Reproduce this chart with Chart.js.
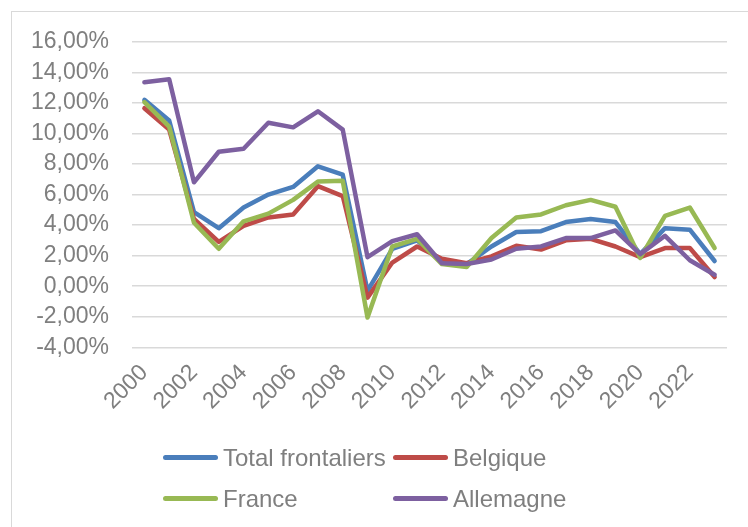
<!DOCTYPE html>
<html>
<head>
<meta charset="utf-8">
<script src="https://cdn.jsdelivr.net/npm/chart.js@4/dist/chart.umd.min.js"></script>
<style>
    body { margin: 0; background: #fff; overflow: hidden; }
    #frame {
        position: absolute; left: 11px; top: 11px; width: 760px; height: 540px;
        border-left: 1px solid #d9d9d9; border-top: 1px solid #d9d9d9;
    }
    #growth_chart { position: absolute; left: 0; top: -7px; }
    #legend {
        position: absolute; left: 151px; top: 425px;
        display: grid; grid-template-columns: 230px 230px; grid-auto-rows: 41px;
        font-family: "Liberation Sans", Arial, sans-serif; font-size: 24px; color: #7f7f7f;
    }
    .item { display: flex; align-items: center; white-space: nowrap; }
    .swatch { width: 55px; height: 5px; border-radius: 3px; margin-right: 5px; }
</style>
</head>
<body>
<div id="frame">
    <canvas id="growth_chart" width="736" height="515"></canvas>
    <div id="legend"></div>
</div>
<script>
// categories
const years = ["2000", "2001", "2002", "2003", "2004", "2005", "2006", "2007", "2008", "2009", "2010", "2011",
    "2012", "2013", "2014", "2015", "2016", "2017", "2018", "2019", "2020", "2021", "2022", "2023"];
// only every other year gets a label
const shownYears = ["2000", "2002", "2004", "2006", "2008", "2010", "2012", "2014", "2016", "2018", "2020", "2022"];

// yearly growth, in %
const totalFrontaliers = [12.2, 10.85, 4.85, 3.8, 5.15, 6.0, 6.5, 7.85, 7.3, -0.3, 2.45, 3.0,
    1.55, 1.45, 2.6, 3.55, 3.6, 4.2, 4.4, 4.2, 2.1, 3.8, 3.7, 1.65];
const belgique = [11.65, 10.25, 4.4, 2.9, 3.95, 4.5, 4.7, 6.55, 5.9, -0.75, 1.55, 2.6,
    1.8, 1.5, 1.95, 2.65, 2.4, 3.0, 3.1, 2.6, 1.9, 2.5, 2.5, 0.6];
const france = [12.05, 10.45, 4.15, 2.45, 4.25, 4.75, 5.65, 6.85, 6.9, -2.05, 2.6, 3.1,
    1.45, 1.25, 3.15, 4.5, 4.7, 5.3, 5.65, 5.2, 1.85, 4.6, 5.15, 2.5];
const allemagne = [13.35, 13.55, 6.8, 8.8, 9.0, 10.7, 10.4, 11.45, 10.25, 1.9, 2.95, 3.4,
    1.5, 1.45, 1.75, 2.45, 2.6, 3.15, 3.15, 3.65, 2.1, 3.3, 1.7, 0.75];

const seriesNames = ["Total frontaliers", "Belgique", "France", "Allemagne"];
const seriesColors = ["#4a7ebb", "#be4b48", "#98b954", "#7d60a0"];
const seriesData = [totalFrontaliers, belgique, france, allemagne];

const yMin = -4;
const yMax = 16;
const yStep = 2;

const fontFamily = "'Liberation Sans', Arial, sans-serif";
const textColor = "#7f7f7f";

// formats 4 -> "4,00%"
formatPercent = (v) => v.toFixed(2).replace(".", ",") + "%";

const datasets = seriesData.map((values, i) => ({
    label: seriesNames[i],
    data: values,
    borderColor: seriesColors[i],
    backgroundColor: seriesColors[i],
    borderWidth: 4.5,
    pointRadius: 0,
    tension: 0,
    borderJoinStyle: "round",
    borderCapStyle: "round",
    // excel draws the last series on top
    order: seriesData.length - 1 - i
}));

new Chart("growth_chart", {
    type: "line",
    data: { labels: years, datasets: datasets },
    options: {
        responsive: false,
        animation: false,
        layout: { padding: { left: 19, right: 21, top: 12, bottom: 101 } },
        plugins: {
            legend: { display: false },
            tooltip: { enabled: false }
        },
        scales: {
            x: {
                offset: true,
                grid: { display: false },
                border: { display: false },
                ticks: {
                    autoSkip: false,
                    minRotation: 45,
                    maxRotation: 45,
                    padding: 4,
                    color: textColor,
                    font: { family: fontFamily, size: 23 },
                    callback: function (value, index) {
                        const label = this.getLabelForValue(value);
                        return shownYears.includes(label) ? label : "";
                    }
                }
            },
            y: {
                min: yMin,
                max: yMax,
                // keep the label column the same width as in excel
                afterFit: (scale) => { scale.width = 101; },
                grid: { color: "#d9d9d9", lineWidth: 1.5, drawTicks: false },
                border: { display: false },
                ticks: {
                    stepSize: yStep,
                    autoSkip: false,
                    padding: 23,
                    color: textColor,
                    font: { family: fontFamily, size: 23 },
                    callback: (v) => formatPercent(v)
                }
            }
        }
    }
});

// legend in two columns, like the excel one
const legend = document.getElementById("legend");
seriesNames.forEach((name, i) => {
    const item = document.createElement("div");
    item.className = "item";
    const swatch = document.createElement("span");
    swatch.className = "swatch";
    swatch.style.background = seriesColors[i];
    item.appendChild(swatch);
    item.appendChild(document.createTextNode(name));
    legend.appendChild(item);
});
</script>
</body>
</html>
